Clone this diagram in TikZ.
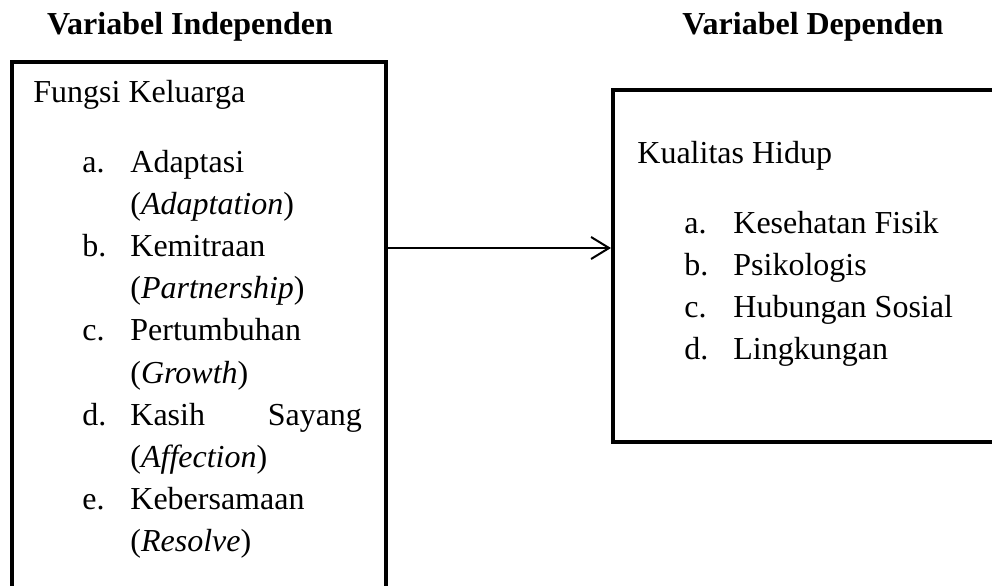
\documentclass[tikz,border=0pt]{standalone}
\usepackage{fontspec}
\setmainfont{Liberation Serif}
\usepackage{tikz}
\usetikzlibrary{
  arrows.meta,
  positioning,
  fit,
  calc
}
\tikzset{
  vartext/.style={font=\fontsize{16pt}{21pt}\selectfont, inner sep=0pt, anchor=base west},
  varhead/.style={font=\fontsize{16pt}{21pt}\selectfont\bfseries, inner sep=0pt, anchor=base},
  varbox/.style={draw, line width=2pt, inner sep=0pt},
  influence/.style={-{Straight Barb[length=9pt, width=11pt, line width=1pt]}, line width=1pt}
}

\begin{document}
\begin{tikzpicture}[x=0.5pt, y=-0.5pt]
  \useasboundingbox (0,0) rectangle (992,585);
  \clip (0,0) rectangle (992,585);

  % headings
  \node[varhead] (headIndep) at (190,34) {Variabel Independen};
  \node[varhead] (headDep) at (813,34) {Variabel Dependen};

  % boxes
  \node[varbox, fit={(12,62) (385.5,620)}] (boxIndep) {};
  \node[varbox, fit={(613,90) (1010,442)}] (boxDep) {};

  % independent variable
  \node[vartext] (fungsi) at (33,102) {Fungsi Keluarga};
  \foreach \i/\lbl/\first/\second in {
    0/a./Adaptasi/Adaptation,
    1/b./Kemitraan/Partnership,
    2/c./Pertumbuhan/Growth,
    3/d./{\makebox[115.8pt][s]{Kasih Sayang}}/Affection,
    4/e./Kebersamaan/Resolve}{
    \node[vartext] (lblIndep-\i) at (82,172+84.4*\i) {\lbl};
    \node[vartext] (itemIndep-\i) at (130,172+84.4*\i) {\first};
    \node[vartext] (itemEn-\i) at (130,214.2+84.4*\i) {(\textit{\second})};
  }

  % dependent variable
  \node[vartext] (kualitas) at (637,163) {Kualitas Hidup};
  \foreach \i/\lbl/\txt in {
    0/a./Kesehatan Fisik,
    1/b./Psikologis,
    2/c./Hubungan Sosial,
    3/d./Lingkungan}{
    \node[vartext] (lblDep-\i) at (684,233+42.3*\i) {\lbl};
    \node[vartext] (itemDep-\i) at (733,233+42.3*\i) {\txt};
  }

  % connector
  \coordinate (arrowIn) at (boxDep.west |- 0,248);
  \draw[influence] (boxIndep.east |- arrowIn) -- (arrowIn);
\end{tikzpicture}
\end{document}
